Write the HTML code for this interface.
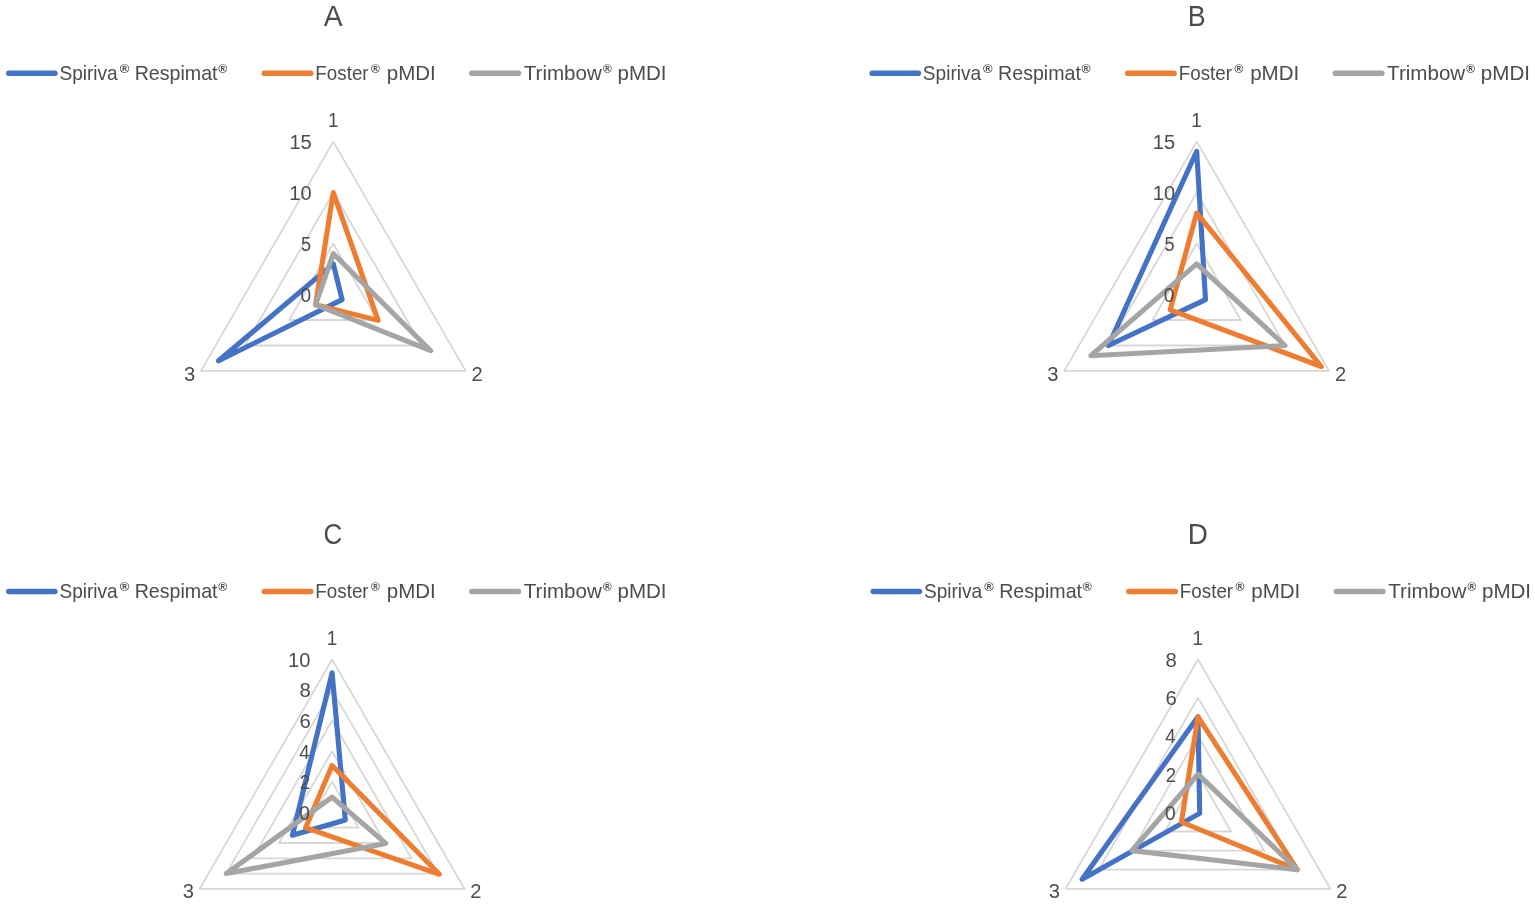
<!DOCTYPE html>
<html lang="en"><head><meta charset="utf-8"><title>Radar charts A-D</title>
<style>html,body{margin:0;padding:0;background:#fff}body{width:1535px;height:904px;overflow:hidden}svg{display:block}</style></head>
<body>
<svg width="1535" height="904" viewBox="0 0 1535 904" font-family='"Liberation Sans", sans-serif'>
<rect width="1535" height="904" fill="#fff"/>
<g id="chart-A">
<text x="323.84" y="26.40" font-size="30" fill="#4C4C4C" textLength="18.91" lengthAdjust="spacingAndGlyphs">A</text>
<line x1="8.8" y1="73.2" x2="54.9" y2="73.2" stroke="#4472C4" stroke-width="5.6" stroke-linecap="round"/>
<text><tspan x="59.43" y="80.00" font-size="20.2" fill="#4C4C4C" textLength="58.27" lengthAdjust="spacingAndGlyphs">Spiriva</tspan><tspan x="119.70" y="73.00" font-size="12.3" font-weight="bold" fill="#4C4C4C" textLength="9.60" lengthAdjust="spacingAndGlyphs">®</tspan><tspan x="129.24" y="80.00" font-size="20.2" fill="#4C4C4C" textLength="88.30" lengthAdjust="spacingAndGlyphs"> Respimat</tspan><tspan x="218.20" y="73.00" font-size="12.3" font-weight="bold" fill="#4C4C4C" textLength="9.00" lengthAdjust="spacingAndGlyphs">®</tspan></text>
<line x1="264.4" y1="73.2" x2="310.7" y2="73.2" stroke="#ED7D31" stroke-width="5.6" stroke-linecap="round"/>
<text><tspan x="315.36" y="80.00" font-size="20.2" fill="#4C4C4C" textLength="53.25" lengthAdjust="spacingAndGlyphs">Foster</tspan><tspan x="371.00" y="73.00" font-size="12.3" font-weight="bold" fill="#4C4C4C" textLength="8.80" lengthAdjust="spacingAndGlyphs">®</tspan><tspan x="381.08" y="80.00" font-size="20.2" fill="#4C4C4C" textLength="54.72" lengthAdjust="spacingAndGlyphs"> pMDI</tspan></text>
<line x1="471.9" y1="73.2" x2="518.4" y2="73.2" stroke="#A5A5A5" stroke-width="5.6" stroke-linecap="round"/>
<text><tspan x="523.74" y="80.00" font-size="20.2" fill="#4C4C4C" textLength="78.11" lengthAdjust="spacingAndGlyphs">Trimbow</tspan><tspan x="602.90" y="73.00" font-size="12.3" font-weight="bold" fill="#4C4C4C" textLength="8.70" lengthAdjust="spacingAndGlyphs">®</tspan><tspan x="611.76" y="80.00" font-size="20.2" fill="#4C4C4C" textLength="54.84" lengthAdjust="spacingAndGlyphs"> pMDI</tspan></text>
<polygon points="333.3,243.5 377.4,320.0 289.2,320.0" fill="none" stroke="#D7D7D7" stroke-width="1.8" stroke-linejoin="round"/>
<polygon points="333.3,192.6 421.6,345.5 245.0,345.5" fill="none" stroke="#D7D7D7" stroke-width="1.8" stroke-linejoin="round"/>
<polygon points="333.3,141.6 465.7,370.9 200.9,370.9" fill="none" stroke="#D7D7D7" stroke-width="1.8" stroke-linejoin="round"/>
<polygon points="333.3,263.9 342.1,299.6 218.5,360.8" fill="none" stroke="#4472C4" stroke-width="5.1" stroke-linejoin="round"/>
<polygon points="333.3,192.6 378.1,320.4 315.6,304.7" fill="none" stroke="#ED7D31" stroke-width="5.1" stroke-linejoin="round"/>
<polygon points="333.3,253.7 430.7,350.7 315.6,304.7" fill="none" stroke="#A5A5A5" stroke-width="5.1" stroke-linejoin="round"/>
<text x="300.42" y="301.90" font-size="19.5" fill="#4C4C4C" textLength="10.63" lengthAdjust="spacingAndGlyphs">0</text>
<text x="300.98" y="250.93" font-size="19.5" fill="#4C4C4C" textLength="10.09" lengthAdjust="spacingAndGlyphs">5</text>
<text x="289.34" y="199.97" font-size="19.5" fill="#4C4C4C" textLength="22.34" lengthAdjust="spacingAndGlyphs">10</text>
<text x="289.40" y="149.00" font-size="19.5" fill="#4C4C4C" textLength="22.34" lengthAdjust="spacingAndGlyphs">15</text>
<text x="327.88" y="127.00" font-size="19.5" fill="#4C4C4C" textLength="10.52" lengthAdjust="spacingAndGlyphs">1</text>
<text x="471.49" y="380.95" font-size="20.8" fill="#4C4C4C" textLength="11.22" lengthAdjust="spacingAndGlyphs">2</text>
<text x="183.95" y="380.95" font-size="20.8" fill="#4C4C4C" textLength="11.22" lengthAdjust="spacingAndGlyphs">3</text>
</g>
<g id="chart-B">
<text x="1187.80" y="26.40" font-size="30" fill="#4C4C4C" textLength="17.92" lengthAdjust="spacingAndGlyphs">B</text>
<line x1="872.2" y1="73.2" x2="918.3" y2="73.2" stroke="#4472C4" stroke-width="5.6" stroke-linecap="round"/>
<text><tspan x="922.83" y="80.00" font-size="20.2" fill="#4C4C4C" textLength="58.27" lengthAdjust="spacingAndGlyphs">Spiriva</tspan><tspan x="983.10" y="73.00" font-size="12.3" font-weight="bold" fill="#4C4C4C" textLength="9.60" lengthAdjust="spacingAndGlyphs">®</tspan><tspan x="992.64" y="80.00" font-size="20.2" fill="#4C4C4C" textLength="88.30" lengthAdjust="spacingAndGlyphs"> Respimat</tspan><tspan x="1081.60" y="73.00" font-size="12.3" font-weight="bold" fill="#4C4C4C" textLength="9.00" lengthAdjust="spacingAndGlyphs">®</tspan></text>
<line x1="1127.8" y1="73.2" x2="1174.1" y2="73.2" stroke="#ED7D31" stroke-width="5.6" stroke-linecap="round"/>
<text><tspan x="1178.76" y="80.00" font-size="20.2" fill="#4C4C4C" textLength="53.25" lengthAdjust="spacingAndGlyphs">Foster</tspan><tspan x="1234.40" y="73.00" font-size="12.3" font-weight="bold" fill="#4C4C4C" textLength="8.80" lengthAdjust="spacingAndGlyphs">®</tspan><tspan x="1244.48" y="80.00" font-size="20.2" fill="#4C4C4C" textLength="54.72" lengthAdjust="spacingAndGlyphs"> pMDI</tspan></text>
<line x1="1335.3" y1="73.2" x2="1381.8" y2="73.2" stroke="#A5A5A5" stroke-width="5.6" stroke-linecap="round"/>
<text><tspan x="1387.14" y="80.00" font-size="20.2" fill="#4C4C4C" textLength="78.11" lengthAdjust="spacingAndGlyphs">Trimbow</tspan><tspan x="1466.30" y="73.00" font-size="12.3" font-weight="bold" fill="#4C4C4C" textLength="8.70" lengthAdjust="spacingAndGlyphs">®</tspan><tspan x="1475.16" y="80.00" font-size="20.2" fill="#4C4C4C" textLength="54.84" lengthAdjust="spacingAndGlyphs"> pMDI</tspan></text>
<polygon points="1196.7,243.5 1240.8,320.0 1152.6,320.0" fill="none" stroke="#D7D7D7" stroke-width="1.8" stroke-linejoin="round"/>
<polygon points="1196.7,192.6 1285.0,345.5 1108.4,345.5" fill="none" stroke="#D7D7D7" stroke-width="1.8" stroke-linejoin="round"/>
<polygon points="1196.7,141.6 1329.1,370.9 1064.3,370.9" fill="none" stroke="#D7D7D7" stroke-width="1.8" stroke-linejoin="round"/>
<polygon points="1196.7,151.3 1205.5,299.6 1108.4,345.5" fill="none" stroke="#4472C4" stroke-width="5.1" stroke-linejoin="round"/>
<polygon points="1196.7,213.0 1321.3,366.5 1170.2,309.8" fill="none" stroke="#ED7D31" stroke-width="5.1" stroke-linejoin="round"/>
<polygon points="1196.7,263.9 1285.0,345.5 1090.8,355.7" fill="none" stroke="#A5A5A5" stroke-width="5.1" stroke-linejoin="round"/>
<text x="1163.82" y="301.90" font-size="19.5" fill="#4C4C4C" textLength="10.63" lengthAdjust="spacingAndGlyphs">0</text>
<text x="1164.38" y="250.93" font-size="19.5" fill="#4C4C4C" textLength="10.09" lengthAdjust="spacingAndGlyphs">5</text>
<text x="1152.74" y="199.97" font-size="19.5" fill="#4C4C4C" textLength="22.34" lengthAdjust="spacingAndGlyphs">10</text>
<text x="1152.80" y="149.00" font-size="19.5" fill="#4C4C4C" textLength="22.34" lengthAdjust="spacingAndGlyphs">15</text>
<text x="1191.28" y="127.00" font-size="19.5" fill="#4C4C4C" textLength="10.52" lengthAdjust="spacingAndGlyphs">1</text>
<text x="1334.89" y="380.55" font-size="20.8" fill="#4C4C4C" textLength="11.22" lengthAdjust="spacingAndGlyphs">2</text>
<text x="1047.35" y="380.55" font-size="20.8" fill="#4C4C4C" textLength="11.22" lengthAdjust="spacingAndGlyphs">3</text>
</g>
<g id="chart-C">
<text x="323.58" y="544.00" font-size="30" fill="#4C4C4C" textLength="18.70" lengthAdjust="spacingAndGlyphs">C</text>
<line x1="8.8" y1="591.5" x2="54.9" y2="591.5" stroke="#4472C4" stroke-width="5.6" stroke-linecap="round"/>
<text><tspan x="59.43" y="598.30" font-size="20.2" fill="#4C4C4C" textLength="58.27" lengthAdjust="spacingAndGlyphs">Spiriva</tspan><tspan x="119.70" y="591.30" font-size="12.3" font-weight="bold" fill="#4C4C4C" textLength="9.60" lengthAdjust="spacingAndGlyphs">®</tspan><tspan x="129.24" y="598.30" font-size="20.2" fill="#4C4C4C" textLength="88.30" lengthAdjust="spacingAndGlyphs"> Respimat</tspan><tspan x="218.20" y="591.30" font-size="12.3" font-weight="bold" fill="#4C4C4C" textLength="9.00" lengthAdjust="spacingAndGlyphs">®</tspan></text>
<line x1="264.4" y1="591.5" x2="310.7" y2="591.5" stroke="#ED7D31" stroke-width="5.6" stroke-linecap="round"/>
<text><tspan x="315.36" y="598.30" font-size="20.2" fill="#4C4C4C" textLength="53.25" lengthAdjust="spacingAndGlyphs">Foster</tspan><tspan x="371.00" y="591.30" font-size="12.3" font-weight="bold" fill="#4C4C4C" textLength="8.80" lengthAdjust="spacingAndGlyphs">®</tspan><tspan x="381.08" y="598.30" font-size="20.2" fill="#4C4C4C" textLength="54.72" lengthAdjust="spacingAndGlyphs"> pMDI</tspan></text>
<line x1="471.9" y1="591.5" x2="518.4" y2="591.5" stroke="#A5A5A5" stroke-width="5.6" stroke-linecap="round"/>
<text><tspan x="523.74" y="598.30" font-size="20.2" fill="#4C4C4C" textLength="78.11" lengthAdjust="spacingAndGlyphs">Trimbow</tspan><tspan x="602.90" y="591.30" font-size="12.3" font-weight="bold" fill="#4C4C4C" textLength="8.70" lengthAdjust="spacingAndGlyphs">®</tspan><tspan x="611.76" y="598.30" font-size="20.2" fill="#4C4C4C" textLength="54.84" lengthAdjust="spacingAndGlyphs"> pMDI</tspan></text>
<polygon points="332.1,781.8 358.6,827.7 305.6,827.7" fill="none" stroke="#D7D7D7" stroke-width="1.8" stroke-linejoin="round"/>
<polygon points="332.1,751.2 385.1,843.0 279.1,843.0" fill="none" stroke="#D7D7D7" stroke-width="1.8" stroke-linejoin="round"/>
<polygon points="332.1,720.7 411.5,858.3 252.7,858.3" fill="none" stroke="#D7D7D7" stroke-width="1.8" stroke-linejoin="round"/>
<polygon points="332.1,690.1 438.0,873.6 226.2,873.6" fill="none" stroke="#D7D7D7" stroke-width="1.8" stroke-linejoin="round"/>
<polygon points="332.1,659.5 464.5,888.8 199.7,888.8" fill="none" stroke="#D7D7D7" stroke-width="1.8" stroke-linejoin="round"/>
<polygon points="332.1,672.8 345.3,820.0 292.4,835.3" fill="none" stroke="#4472C4" stroke-width="5.1" stroke-linejoin="round"/>
<polygon points="332.1,765.5 439.4,874.3 305.6,827.7" fill="none" stroke="#ED7D31" stroke-width="5.1" stroke-linejoin="round"/>
<polygon points="332.1,797.1 385.7,843.4 226.2,873.6" fill="none" stroke="#A5A5A5" stroke-width="5.1" stroke-linejoin="round"/>
<text x="299.22" y="819.80" font-size="19.5" fill="#4C4C4C" textLength="10.63" lengthAdjust="spacingAndGlyphs">0</text>
<text x="299.73" y="789.22" font-size="19.5" fill="#4C4C4C" textLength="10.30" lengthAdjust="spacingAndGlyphs">2</text>
<text x="299.24" y="758.64" font-size="19.5" fill="#4C4C4C" textLength="10.41" lengthAdjust="spacingAndGlyphs">4</text>
<text x="299.51" y="728.06" font-size="19.5" fill="#4C4C4C" textLength="11.28" lengthAdjust="spacingAndGlyphs">6</text>
<text x="299.50" y="697.48" font-size="19.5" fill="#4C4C4C" textLength="11.28" lengthAdjust="spacingAndGlyphs">8</text>
<text x="288.14" y="666.90" font-size="19.5" fill="#4C4C4C" textLength="22.34" lengthAdjust="spacingAndGlyphs">10</text>
<text x="326.68" y="644.90" font-size="19.5" fill="#4C4C4C" textLength="10.52" lengthAdjust="spacingAndGlyphs">1</text>
<text x="470.29" y="897.95" font-size="20.8" fill="#4C4C4C" textLength="11.22" lengthAdjust="spacingAndGlyphs">2</text>
<text x="182.75" y="897.95" font-size="20.8" fill="#4C4C4C" textLength="11.22" lengthAdjust="spacingAndGlyphs">3</text>
</g>
<g id="chart-D">
<text x="1187.81" y="544.00" font-size="30" fill="#4C4C4C" textLength="20.12" lengthAdjust="spacingAndGlyphs">D</text>
<line x1="873.3" y1="591.5" x2="919.4" y2="591.5" stroke="#4472C4" stroke-width="5.6" stroke-linecap="round"/>
<text><tspan x="923.93" y="598.30" font-size="20.2" fill="#4C4C4C" textLength="58.27" lengthAdjust="spacingAndGlyphs">Spiriva</tspan><tspan x="984.20" y="591.30" font-size="12.3" font-weight="bold" fill="#4C4C4C" textLength="9.60" lengthAdjust="spacingAndGlyphs">®</tspan><tspan x="993.74" y="598.30" font-size="20.2" fill="#4C4C4C" textLength="88.30" lengthAdjust="spacingAndGlyphs"> Respimat</tspan><tspan x="1082.70" y="591.30" font-size="12.3" font-weight="bold" fill="#4C4C4C" textLength="9.00" lengthAdjust="spacingAndGlyphs">®</tspan></text>
<line x1="1128.9" y1="591.5" x2="1175.2" y2="591.5" stroke="#ED7D31" stroke-width="5.6" stroke-linecap="round"/>
<text><tspan x="1179.86" y="598.30" font-size="20.2" fill="#4C4C4C" textLength="53.25" lengthAdjust="spacingAndGlyphs">Foster</tspan><tspan x="1235.50" y="591.30" font-size="12.3" font-weight="bold" fill="#4C4C4C" textLength="8.80" lengthAdjust="spacingAndGlyphs">®</tspan><tspan x="1245.58" y="598.30" font-size="20.2" fill="#4C4C4C" textLength="54.72" lengthAdjust="spacingAndGlyphs"> pMDI</tspan></text>
<line x1="1336.4" y1="591.5" x2="1382.9" y2="591.5" stroke="#A5A5A5" stroke-width="5.6" stroke-linecap="round"/>
<text><tspan x="1388.24" y="598.30" font-size="20.2" fill="#4C4C4C" textLength="78.11" lengthAdjust="spacingAndGlyphs">Trimbow</tspan><tspan x="1467.40" y="591.30" font-size="12.3" font-weight="bold" fill="#4C4C4C" textLength="8.70" lengthAdjust="spacingAndGlyphs">®</tspan><tspan x="1476.26" y="598.30" font-size="20.2" fill="#4C4C4C" textLength="54.84" lengthAdjust="spacingAndGlyphs"> pMDI</tspan></text>
<polygon points="1198.0,774.2 1231.1,831.5 1164.9,831.5" fill="none" stroke="#D7D7D7" stroke-width="1.8" stroke-linejoin="round"/>
<polygon points="1198.0,735.9 1264.2,850.6 1131.8,850.6" fill="none" stroke="#D7D7D7" stroke-width="1.8" stroke-linejoin="round"/>
<polygon points="1198.0,697.7 1297.3,869.7 1098.7,869.7" fill="none" stroke="#D7D7D7" stroke-width="1.8" stroke-linejoin="round"/>
<polygon points="1198.0,659.5 1330.4,888.8 1065.6,888.8" fill="none" stroke="#D7D7D7" stroke-width="1.8" stroke-linejoin="round"/>
<polygon points="1198.0,716.8 1199.7,813.4 1082.1,879.3" fill="none" stroke="#4472C4" stroke-width="5.1" stroke-linejoin="round"/>
<polygon points="1198.0,716.8 1297.3,869.7 1181.4,822.0" fill="none" stroke="#ED7D31" stroke-width="5.1" stroke-linejoin="round"/>
<polygon points="1198.0,774.2 1297.3,869.7 1131.8,850.6" fill="none" stroke="#A5A5A5" stroke-width="5.1" stroke-linejoin="round"/>
<text x="1165.12" y="819.80" font-size="19.5" fill="#4C4C4C" textLength="10.63" lengthAdjust="spacingAndGlyphs">0</text>
<text x="1165.63" y="781.57" font-size="19.5" fill="#4C4C4C" textLength="10.30" lengthAdjust="spacingAndGlyphs">2</text>
<text x="1165.14" y="743.35" font-size="19.5" fill="#4C4C4C" textLength="10.41" lengthAdjust="spacingAndGlyphs">4</text>
<text x="1165.41" y="705.12" font-size="19.5" fill="#4C4C4C" textLength="11.28" lengthAdjust="spacingAndGlyphs">6</text>
<text x="1165.40" y="666.90" font-size="19.5" fill="#4C4C4C" textLength="11.28" lengthAdjust="spacingAndGlyphs">8</text>
<text x="1192.58" y="644.90" font-size="19.5" fill="#4C4C4C" textLength="10.52" lengthAdjust="spacingAndGlyphs">1</text>
<text x="1336.19" y="897.95" font-size="20.8" fill="#4C4C4C" textLength="11.22" lengthAdjust="spacingAndGlyphs">2</text>
<text x="1048.65" y="897.95" font-size="20.8" fill="#4C4C4C" textLength="11.22" lengthAdjust="spacingAndGlyphs">3</text>
</g>
</svg>
</body></html>
